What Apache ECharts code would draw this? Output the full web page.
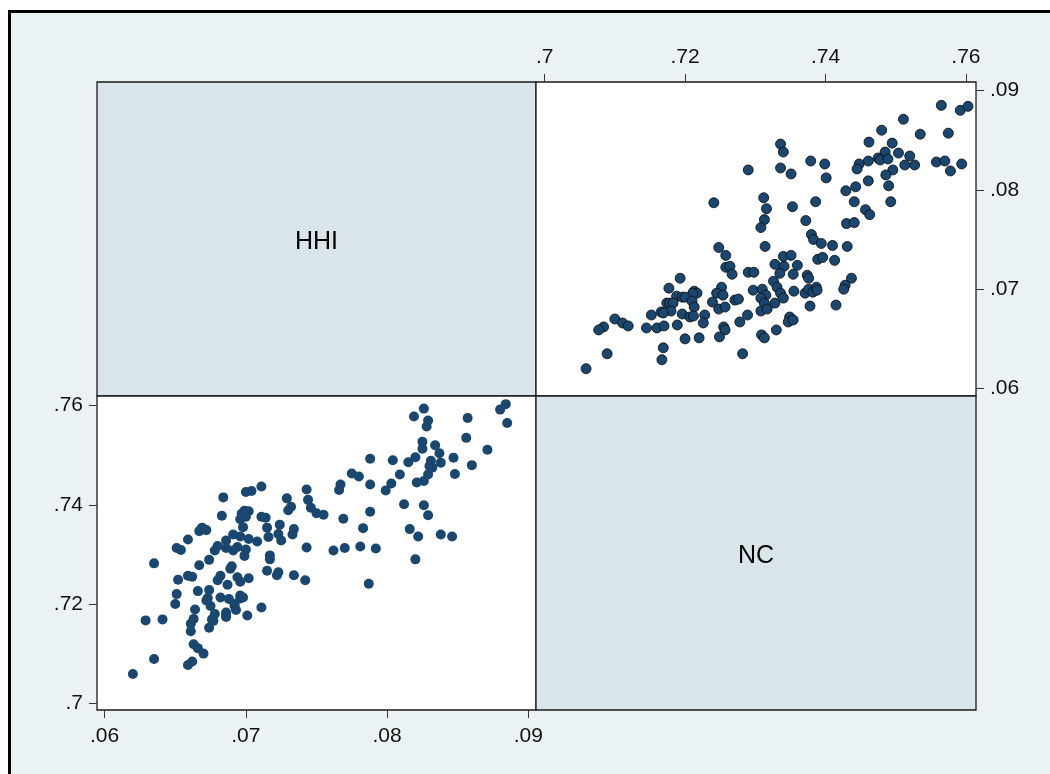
<!DOCTYPE html>
<html>
<head>
<meta charset="utf-8">
<script src="https://cdn.jsdelivr.net/npm/echarts@6/dist/echarts.min.js"></script>
<style>
html,body{margin:0;padding:0;background:#ffffff;}
#chart{width:1050px;height:774px;}
</style>
</head>
<body>
<div id="chart"></div>
<script>
// Variable names
const varNames = ['HHI', 'NC'];

// Observations (HHI, NC pairs)
const hhi = [
0.0820,0.0787,0.0792,0.0781,0.0770,0.0762,0.0742,0.0743,
0.0885,0.0880,0.0884,0.0871,0.0860,0.0856,0.0857,0.0846,0.0838,0.0848,0.0847,0.0838,
0.0837,0.0834,0.0832,0.0830,0.0831,0.0829,0.0829,0.0826,0.0826,0.0821,0.0825,0.0825,
0.0828,0.0829,0.0826,0.0819,0.0822,0.0816,0.0812,0.0820,0.0815,0.0809,0.0803,0.0799,
0.0804,0.0788,0.0788,0.0788,0.0783,0.0780,0.0775,0.0769,0.0766,0.0767,0.0755,0.0750,
0.0746,0.0744,0.0743,
0.0733,0.0734,0.0730,0.0732,0.0729,0.0725,0.0723,0.0724,0.0716,0.0715,0.0714,0.0711,
0.0711,0.0704,0.0700,0.0708,0.0702,0.0696,0.0691,0.0686,0.0698,0.0696,0.0700,0.0697,
0.0702,0.0699,0.0683,0.0684,0.0672,0.0667,0.0669,0.0659,
0.0734,0.0722,0.0723,0.0715,0.0717,0.0717,0.0711,0.0701,0.0702,0.0698,0.0696,0.0696,
0.0693,0.0692,0.0692,0.0696,0.0694,0.0687,0.0689,0.0690,0.0699,0.0700,0.0694,0.0691,
0.0686,0.0686,0.0686,0.0686,0.0688,0.0682,0.0677,0.0678,0.0674,0.0676,0.0675,0.0672,
0.0673,0.0674,0.0680,0.0682,0.0674,0.0678,0.0680,0.0670,0.0666,0.0663,0.0662,0.0659,
0.0661,0.0661,0.0663,0.0664,0.0666,0.0667,0.0662,0.0659,0.0652,0.0650,0.0651,0.0654,
0.0651,0.0641,0.0635,0.0629,0.0635,0.0620
];
const nc = [
0.7290,0.7241,0.7312,0.7316,0.7313,0.7308,0.7248,0.7314,
0.7565,0.7592,0.7603,0.7511,0.7480,0.7535,0.7575,0.7336,0.7340,0.7462,0.7495,0.7485,
0.7504,0.7520,0.7475,0.7478,0.7489,0.7461,0.7379,0.7399,0.7448,0.7445,0.7513,0.7527,
0.7558,0.7570,0.7594,0.7578,0.7336,0.7351,0.7401,0.7496,0.7486,0.7461,0.7443,0.7429,
0.7490,0.7493,0.7441,0.7386,0.7353,0.7457,0.7463,0.7372,0.7430,0.7441,0.7380,0.7383,
0.7394,0.7410,0.7431,
0.7340,0.7351,0.7389,0.7396,0.7413,0.7328,0.7341,0.7360,0.7335,0.7354,0.7374,0.7376,
0.7437,0.7428,0.7426,0.7326,0.7331,0.7336,0.7340,0.7328,0.7355,0.7371,0.7376,0.7382,
0.7387,0.7388,0.7378,0.7415,0.7349,0.7347,0.7354,0.7330,
0.7258,0.7258,0.7264,0.7267,0.7290,0.7298,0.7193,0.7177,0.7252,0.7213,0.7217,0.7211,
0.7188,0.7196,0.7200,0.7245,0.7254,0.7239,0.7271,0.7276,0.7297,0.7310,0.7315,0.7308,
0.7313,0.7174,0.7178,0.7183,0.7210,0.7213,0.7166,0.7180,0.7152,0.7169,0.7196,0.7207,
0.7212,0.7228,0.7248,0.7257,0.7289,0.7308,0.7317,0.7100,0.7111,0.7119,0.7084,0.7077,
0.7145,0.7160,0.7170,0.7189,0.7226,0.7278,0.7255,0.7257,0.7249,0.7200,0.7220,0.7309,
0.7313,0.7169,0.7089,0.7167,0.7282,0.7059
];

// Tick labels
const hhiTicks = [0.06, 0.07, 0.08, 0.09];
const ncTicks = [0.70, 0.72, 0.74, 0.76];
// Axis ranges
const hhiRangeX = [0.05946, 0.09054];
const hhiRangeY = [0.05925, 0.09085];
const ncRangeX = [0.69877, 0.76144];
const ncRangeY = [0.69863, 0.76194];

const FONT = '"Liberation Sans", Arial, Helvetica, sans-serif';
const fmt = v => {
  let s = String(Math.round(v * 100) / 100);
  return s.replace(/^0/, '');
};

const chart = echarts.init(document.getElementById('chart'), null, {renderer: 'canvas'});

const cells = [
  {left: 97, top: 82, width: 439, height: 314, bg: '#d9e5eb'},
  {left: 536, top: 82, width: 440, height: 314, bg: '#ffffff'},
  {left: 97, top: 396, width: 439, height: 314, bg: '#ffffff'},
  {left: 536, top: 396, width: 440, height: 314, bg: '#d9e5eb'}
];

const grid = cells.map(c => ({
  left: c.left, top: c.top, width: c.width, height: c.height,
  show: true, backgroundColor: c.bg, borderColor: '#1a1a1a', borderWidth: 1.3,
  containLabel: false
}));

function valAxis(gi, pos, range, ticks, margin) {
  return {
    type: 'value', gridIndex: gi, position: pos,
    min: range[0], max: range[1], show: true,
    axisLine: {show: false},
    splitLine: {show: false},
    axisTick: {show: true, length: 8, lineStyle: {color: '#333', width: 1}, customValues: ticks},
    axisLabel: {show: true, customValues: ticks, formatter: fmt, fontSize: 21, color: '#111',
      fontFamily: FONT, margin: margin}
  };
}

const option = {
  animation: false,
  backgroundColor: '#ffffff',
  graphic: [
    {type: 'rect', z: -10, silent: true, shape: {x: 9.5, y: 11.5, width: 1100, height: 800},
      style: {fill: '#eaf2f3', stroke: '#000', lineWidth: 3}},
    {type: 'text', x: cells[0].left + cells[0].width / 2, y: cells[0].top + cells[0].height / 2 + 3,
      style: {text: varNames[0], font: '25px ' + FONT, fill: '#000', align: 'center', verticalAlign: 'middle'}, z: 10},
    {type: 'text', x: cells[3].left + cells[3].width / 2, y: cells[3].top + cells[3].height / 2 + 3,
      style: {text: varNames[1], font: '25px ' + FONT, fill: '#000', align: 'center', verticalAlign: 'middle'}, z: 10}
  ],
  grid: grid,
  xAxis: [
    {type: 'value', gridIndex: 0, show: false, min: 0, max: 1},
    valAxis(1, 'top', ncRangeX, ncTicks, 14),
    valAxis(2, 'bottom', hhiRangeX, hhiTicks, 16),
    {type: 'value', gridIndex: 3, show: false, min: 0, max: 1}
  ],
  yAxis: [
    {type: 'value', gridIndex: 0, show: false, min: 0, max: 1},
    valAxis(1, 'right', hhiRangeY, hhiTicks, 14),
    valAxis(2, 'left', ncRangeY, ncTicks, 14),
    {type: 'value', gridIndex: 3, show: false, min: 0, max: 1}
  ],
  series: [
    {type: 'scatter', xAxisIndex: 1, yAxisIndex: 1, symbol: 'circle', symbolSize: 10,
      data: nc.map((v, i) => [v, hhi[i]]),
      itemStyle: {color: '#1a476f', borderColor: '#0a0a0a', borderWidth: 0.8, opacity: 1}},
    {type: 'scatter', xAxisIndex: 2, yAxisIndex: 2, symbol: 'circle', symbolSize: 10,
      data: hhi.map((v, i) => [v, nc[i]]),
      itemStyle: {color: '#1a476f', borderWidth: 0, opacity: 1}}
  ]
};
chart.setOption(option);
</script>
</body>
</html>
